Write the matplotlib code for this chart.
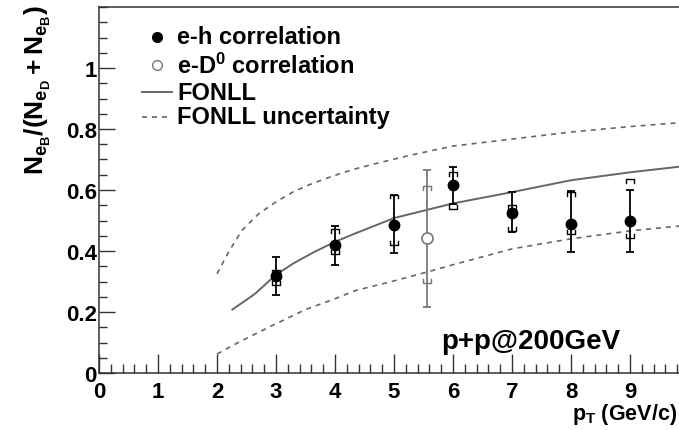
import matplotlib
matplotlib.use("Agg")
import matplotlib.pyplot as plt
import numpy as np

plt.rcParams['font.family'] = ['Liberation Sans', 'DejaVu Sans']
plt.rcParams['font.weight'] = 'bold'
plt.rcParams['mathtext.fontset'] = 'custom'
plt.rcParams['mathtext.rm'] = 'Liberation Sans:bold'
plt.rcParams['mathtext.it'] = 'Liberation Sans:bold'
plt.rcParams['mathtext.bf'] = 'Liberation Sans:bold'

# e-h correlation (filled)
eh_x = [3, 4, 5, 6, 7, 8, 9]
eh_y = [0.318, 0.420, 0.485, 0.616, 0.525, 0.489, 0.498]
eh_stat_hi = [0.380, 0.482, 0.584, 0.675, 0.593, 0.597, 0.600]
eh_stat_lo = [0.256, 0.354, 0.393, 0.554, 0.462, 0.397, 0.397]
eh_sys_hi = [0.338, 0.472, 0.585, 0.659, 0.551, 0.592, 0.636]
eh_sys_lo = [0.289, 0.390, 0.420, 0.538, 0.466, 0.456, 0.443]

# e-D0 correlation (open)
ed_x = [5.56]
ed_y = [0.443]
ed_stat_hi = [0.666]
ed_stat_lo = [0.216]
ed_sys_hi = [0.613]
ed_sys_lo = [0.295]

# FONLL central
fonll_x = [2.26, 2.64, 3.0, 3.3, 3.66, 4.0, 4.31, 5.0, 6.0, 7.0, 8.0, 9.0, 10.0]
fonll_y = [0.208, 0.259, 0.322, 0.360, 0.398, 0.430, 0.455, 0.508, 0.556, 0.593, 0.632, 0.658, 0.680]

# FONLL uncertainty band edges
up_x = [2.0, 2.2, 2.42, 2.7, 3.0, 3.3, 3.6, 3.95, 4.3, 4.76, 5.3, 6.0, 7.0, 8.0, 9.0, 10.0]
up_y = [0.325, 0.398, 0.467, 0.521, 0.561, 0.595, 0.620, 0.645, 0.667, 0.690, 0.715, 0.744,
        0.767, 0.790, 0.808, 0.823]
lo_x = [2.0, 2.36, 2.93, 3.49, 4.06, 4.34, 5.0, 5.56, 6.0, 7.0, 8.0, 9.0, 10.0]
lo_y = [0.062, 0.100, 0.155, 0.207, 0.248, 0.270, 0.302, 0.331, 0.355, 0.407, 0.440, 0.466, 0.485]

W, H = 679, 431
fig = plt.figure(figsize=(W / 100, H / 100), dpi=100)
ax = fig.add_axes([99 / W, (H - 374) / H, 590 / W, 366 / H])

ax.set_xlim(0, 10)
ax.set_ylim(0, 1.2)

gray = '#666666'
ax.plot(fonll_x, fonll_y, color=gray, lw=1.4, zorder=2)
ax.plot(up_x, up_y, color=gray, lw=1.2, ls=(0, (3, 3)), zorder=2)
ax.plot(lo_x, lo_y, color=gray, lw=1.2, ls=(0, (3, 3)), zorder=2)


def draw_set(xs, ys, shi, slo, yhi, ylo, color, filled):
    xs = np.array(xs); ys = np.array(ys)
    shi = np.array(shi); slo = np.array(slo)
    yhi = np.array(yhi); ylo = np.array(ylo)
    ax.errorbar(xs, ys, yerr=[ys - slo, shi - ys], fmt='none', ecolor=color,
                elinewidth=1.3, capsize=3.0, capthick=1.3, zorder=3)
    hw = 0.065
    dy = 0.012
    for x, a, b in zip(xs, yhi, ylo):
        ax.plot([x - hw, x - hw, x + hw, x + hw], [a - dy, a, a, a - dy],
                color=color, lw=1.0, zorder=3)
        ax.plot([x - hw, x - hw, x + hw, x + hw], [b + dy, b, b, b + dy],
                color=color, lw=1.0, zorder=3)
    if filled:
        ax.plot(xs, ys, 'o', ms=7.5, mfc='black', mec='black', zorder=4)
    else:
        ax.plot(xs, ys, 'o', ms=8, mfc='white', mec=color, mew=1.2, zorder=4)


draw_set(eh_x, eh_y, eh_stat_hi, eh_stat_lo, eh_sys_hi, eh_sys_lo, 'black', True)
draw_set(ed_x, ed_y, ed_stat_hi, ed_stat_lo, ed_sys_hi, ed_sys_lo, '#777777', False)

# ticks
ax.set_xticks(range(0, 10))
ax.set_xticks(np.arange(0, 10.01, 0.2), minor=True)
ax.set_yticks([0, 0.2, 0.4, 0.6, 0.8, 1.0])
ax.set_yticklabels(['0', '0.2', '0.4', '0.6', '0.8', '1'])
ax.set_yticks(np.arange(0, 1.201, 0.05), minor=True)
ax.tick_params(axis='both', which='both', direction='in', colors='#333333',
               labelcolor='black', labelsize=16, width=1.0)
ax.tick_params(axis='x', which='major', length=13.5, pad=6)
ax.tick_params(axis='x', which='minor', length=6.5)
ax.tick_params(axis='y', which='major', length=11.5, pad=1.5)
ax.tick_params(axis='y', which='minor', length=5.8)
for lab in ax.get_xticklabels() + ax.get_yticklabels():
    lab.set_fontweight('bold')
for s in ax.spines.values():
    s.set_color('#333333')
    s.set_linewidth(1.1)

# legend (manual)
def fx(px):
    return px / W

def fy(py):
    return 1 - py / H

rows = [38, 66, 93, 118]
fig.lines.append(plt.Line2D([fx(157)], [fy(rows[0])], marker='o', ms=7, mfc='black', mec='black',
                            transform=fig.transFigure))
fig.lines.append(plt.Line2D([fx(157)], [fy(rows[1])], marker='o', ms=7, mfc='white', mec='#777777',
                            mew=1.0, transform=fig.transFigure))
fig.lines.append(plt.Line2D([fx(142), fx(172)], [fy(rows[2])] * 2, color=gray, lw=1.4,
                            transform=fig.transFigure))
fig.lines.append(plt.Line2D([fx(142), fx(172)], [fy(rows[3])] * 2, color=gray, lw=1.2,
                            ls=(0, (3, 3)), transform=fig.transFigure))
labels = ['e-h correlation', r'e-D$^{0}$ correlation', 'FONLL', 'FONLL uncertainty']
for r, t in zip(rows, labels):
    fig.text(fx(177), fy(r), t, fontsize=17, fontweight='bold', ha='left', va='center')

fig.text(fx(531), fy(342), 'p+p@200GeV', fontsize=20, fontweight='bold', ha='center', va='center')

fig.text(fx(38), fy(90), r'$N_{e_B}/(N_{e_D}+N_{e_B})$', fontsize=19, rotation=90,
         ha='center', va='center')
fig.text(fx(677), fy(420), r'$p_{T}$ (GeV/c)', fontsize=15.5, ha='right', va='baseline')

fig.savefig('out.png', dpi=100)
